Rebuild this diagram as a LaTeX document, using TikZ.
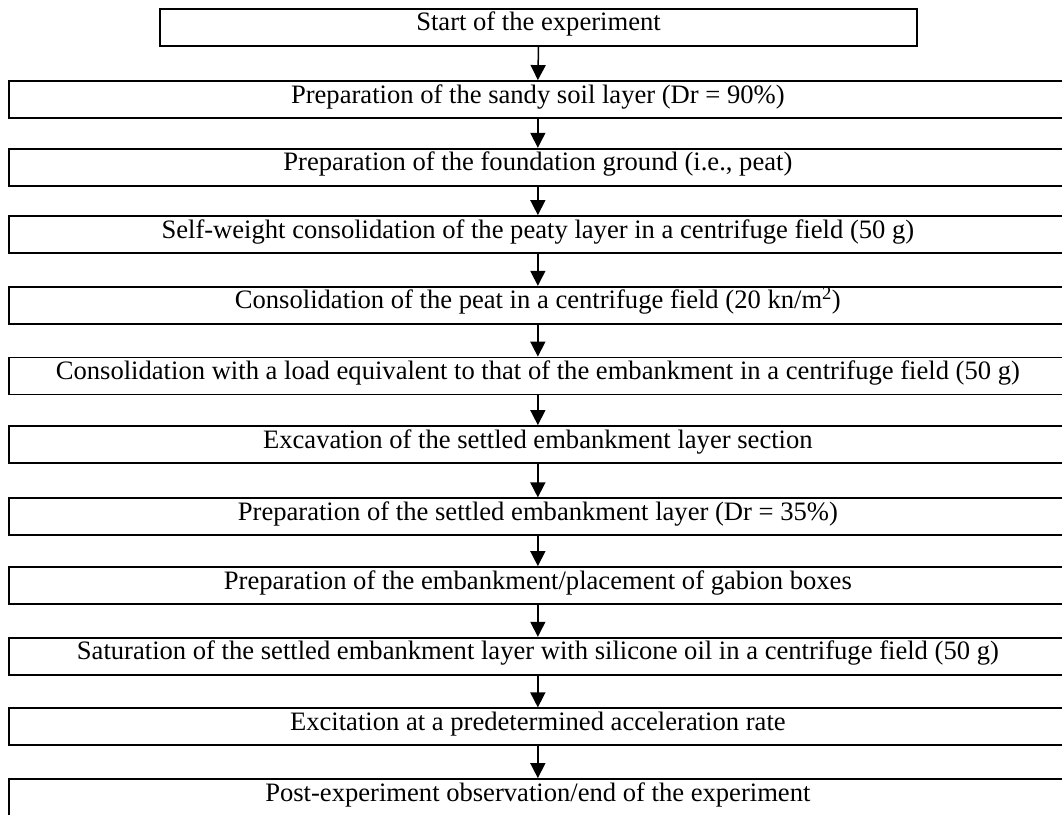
\documentclass[tikz,border=0pt]{standalone}
\usepackage{fontspec}
\setmainfont{Liberation Serif}
\usetikzlibrary{arrows.meta}
\tikzset{
  stepbox/.style={draw=black, line width=1.8pt, inner sep=0pt, minimum height=37pt,
    text height=0.85em, text depth=0.126em, font=\fontsize{26.6}{30}\selectfont},
  widebox/.style={stepbox, minimum width=1058.3pt},
  flowarrow/.style={line width=1.5pt, -{Triangle[length=15pt,width=15pt]}}
}
\begin{document}
\begin{tikzpicture}[x=1pt,y=-1pt]
\useasboundingbox (0,0) rectangle (1062,814);
\clip (0,0) rectangle (1062,814);
\node[stepbox, minimum width=757pt] (b1) at (538.5,27.2) {Start of the experiment};
\node[widebox] (b2) at (537.85,99.5) {Preparation of the sandy soil layer (Dr = 90\%)};
\node[widebox] (b3) at (537.85,167.2) {Preparation of the foundation ground (i.e., peat)};
\node[widebox] (b4) at (537.85,234.5) {Self-weight consolidation of the peaty layer in a centrifuge field (50 g)};
\node[widebox] (b5) at (537.85,305.2) {Consolidation of the peat in a centrifuge field (20 kn/m\textsuperscript{2})};
\node[widebox] (b6) at (537.85,376.0) {Consolidation with a load equivalent to that of the embankment in a centrifuge field (50 g)};
\node[widebox] (b7) at (537.85,444.5) {Excavation of the settled embankment layer section};
\node[widebox] (b8) at (537.85,516.8) {Preparation of the settled embankment layer (Dr = 35\%)};
\node[widebox] (b9) at (537.85,585.5) {Preparation of the embankment/placement of gabion boxes};
\node[widebox] (b10) at (537.85,656.2) {Saturation of the settled embankment layer with silicone oil in a centrifuge field (50 g)};
\node[widebox] (b11) at (537.85,726.8) {Excitation at a predetermined acceleration rate};
\node[widebox] (b12) at (537.85,797.5) {Post-experiment observation/end of the experiment};
\foreach \a/\b in {b1/b2,b2/b3,b3/b4,b4/b5,b5/b6,b6/b7,b7/b8,b8/b9,b9/b10,b10/b11,b11/b12}
  \draw[flowarrow] (\a.south) -- (\b.north);
\end{tikzpicture}
\end{document}
